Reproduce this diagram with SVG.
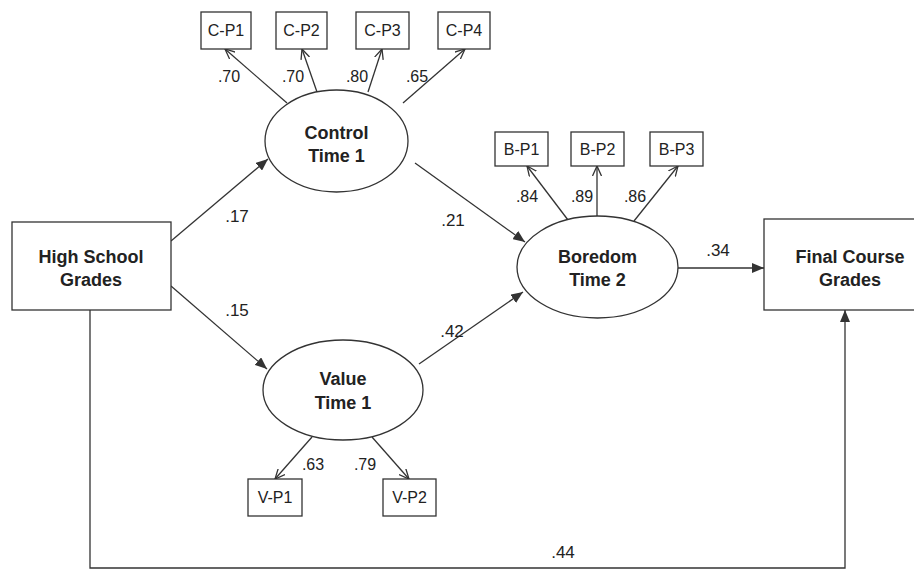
<svg xmlns="http://www.w3.org/2000/svg" width="914" height="569" viewBox="0 0 914 569">
<style>
.box{fill:#fff;stroke:#333;stroke-width:1.3}
.lat{fill:#fff;stroke:#333;stroke-width:1.3}
.ln{fill:none;stroke:#333;stroke-width:1.3}
.big{font-family:"Liberation Sans",Arial,sans-serif;font-weight:bold;font-size:18px;fill:#222;text-anchor:middle}
.sm{font-family:"Liberation Sans",Arial,sans-serif;font-size:16px;fill:#222;text-anchor:middle}
.co{font-family:"Liberation Sans",Arial,sans-serif;font-size:17px;fill:#222;text-anchor:middle}
.cs{font-family:"Liberation Sans",Arial,sans-serif;font-size:16px;fill:#222;text-anchor:middle}
</style>
<defs>
<marker id="fa" viewBox="0 0 12 10" refX="12" refY="5" markerWidth="12" markerHeight="10" orient="auto" markerUnits="userSpaceOnUse"><path d="M0,0 L12,5 L0,10 z" fill="#333"/></marker>
<marker id="oa" viewBox="0 0 11 10" refX="10" refY="5" markerWidth="11" markerHeight="10" orient="auto" markerUnits="userSpaceOnUse"><path d="M0,0.5 L10,5 L0,9.5" fill="none" stroke="#333" stroke-width="1.3"/></marker>
</defs>
<rect width="914" height="569" fill="#fff"/>
<g id="connectors">
<line class="ln" x1="171" y1="241" x2="268" y2="159" marker-end="url(#fa)"/>
<line class="ln" x1="171" y1="286" x2="267" y2="369" marker-end="url(#fa)"/>
<line class="ln" x1="415" y1="163" x2="525" y2="242" marker-end="url(#fa)"/>
<line class="ln" x1="419" y1="364" x2="523" y2="292" marker-end="url(#fa)"/>
<line class="ln" x1="678" y1="268" x2="764" y2="268" marker-end="url(#fa)"/>
<polyline class="ln" points="90,310 90,568 845,568 845,310" marker-end="url(#fa)"/>
<line class="ln" x1="287" y1="103" x2="225" y2="49" marker-end="url(#oa)"/>
<line class="ln" x1="317" y1="92" x2="302" y2="49" marker-end="url(#oa)"/>
<line class="ln" x1="368" y1="92" x2="382" y2="49" marker-end="url(#oa)"/>
<line class="ln" x1="403" y1="103" x2="465" y2="49" marker-end="url(#oa)"/>
<line class="ln" x1="568" y1="220" x2="527" y2="166" marker-end="url(#oa)"/>
<line class="ln" x1="597" y1="216" x2="597" y2="166" marker-end="url(#oa)"/>
<line class="ln" x1="634" y1="221" x2="678" y2="166" marker-end="url(#oa)"/>
<line class="ln" x1="312" y1="437" x2="275" y2="479" marker-end="url(#oa)"/>
<line class="ln" x1="372" y1="437" x2="409" y2="479" marker-end="url(#oa)"/>
<text class="co" x="237" y="222">.17</text>
<text class="co" x="237" y="316">.15</text>
<text class="co" x="453" y="226">.21</text>
<text class="co" x="452" y="337">.42</text>
<text class="co" x="718" y="256">.34</text>
<text class="co" x="563" y="558">.44</text>
<text class="cs" x="229" y="82">.70</text>
<text class="cs" x="293" y="82">.70</text>
<text class="cs" x="357" y="82">.80</text>
<text class="cs" x="417" y="82">.65</text>
<text class="cs" x="527" y="202">.84</text>
<text class="cs" x="582" y="202">.89</text>
<text class="cs" x="635" y="202">.86</text>
<text class="cs" x="313" y="470">.63</text>
<text class="cs" x="365" y="470">.79</text>
</g>
<g id="hs"><rect class="box" x="12" y="222" width="159" height="88"/><text class="big" x="91" y="263">High School</text><text class="big" x="91" y="286">Grades</text></g>
<g id="fcg"><rect class="box" x="764" y="219" width="172" height="91"/><text class="big" x="850" y="263">Final Course</text><text class="big" x="850" y="286">Grades</text></g>
<g id="control"><ellipse class="lat" cx="336.5" cy="141" rx="71.5" ry="51"/><text class="big" x="336.5" y="139">Control</text><text class="big" x="336.5" y="162">Time 1</text></g>
<g id="value"><ellipse class="lat" cx="343" cy="390" rx="80" ry="50"/><text class="big" x="343" y="385">Value</text><text class="big" x="343" y="409">Time 1</text></g>
<g id="boredom"><ellipse class="lat" cx="597.5" cy="267" rx="80.5" ry="51"/><text class="big" x="597.5" y="263">Boredom</text><text class="big" x="597.5" y="286">Time 2</text></g>
<g id="cp1"><rect class="box" x="201" y="12" width="50" height="37"/><text class="sm" x="226" y="36">C-P1</text></g>
<g id="cp2"><rect class="box" x="276" y="12" width="51" height="37"/><text class="sm" x="301.5" y="36">C-P2</text></g>
<g id="cp3"><rect class="box" x="356" y="12" width="53" height="37"/><text class="sm" x="382.5" y="36">C-P3</text></g>
<g id="cp4"><rect class="box" x="438" y="12" width="52" height="37"/><text class="sm" x="464" y="36">C-P4</text></g>
<g id="bp1"><rect class="box" x="495" y="132" width="53" height="34"/><text class="sm" x="521.5" y="155">B-P1</text></g>
<g id="bp2"><rect class="box" x="571" y="132" width="53" height="34"/><text class="sm" x="597.5" y="155">B-P2</text></g>
<g id="bp3"><rect class="box" x="650" y="132" width="53" height="34"/><text class="sm" x="676.5" y="155">B-P3</text></g>
<g id="vp1"><rect class="box" x="248" y="479" width="54" height="37"/><text class="sm" x="275" y="503">V-P1</text></g>
<g id="vp2"><rect class="box" x="383" y="479" width="53" height="37"/><text class="sm" x="409.5" y="503">V-P2</text></g>
</svg>
